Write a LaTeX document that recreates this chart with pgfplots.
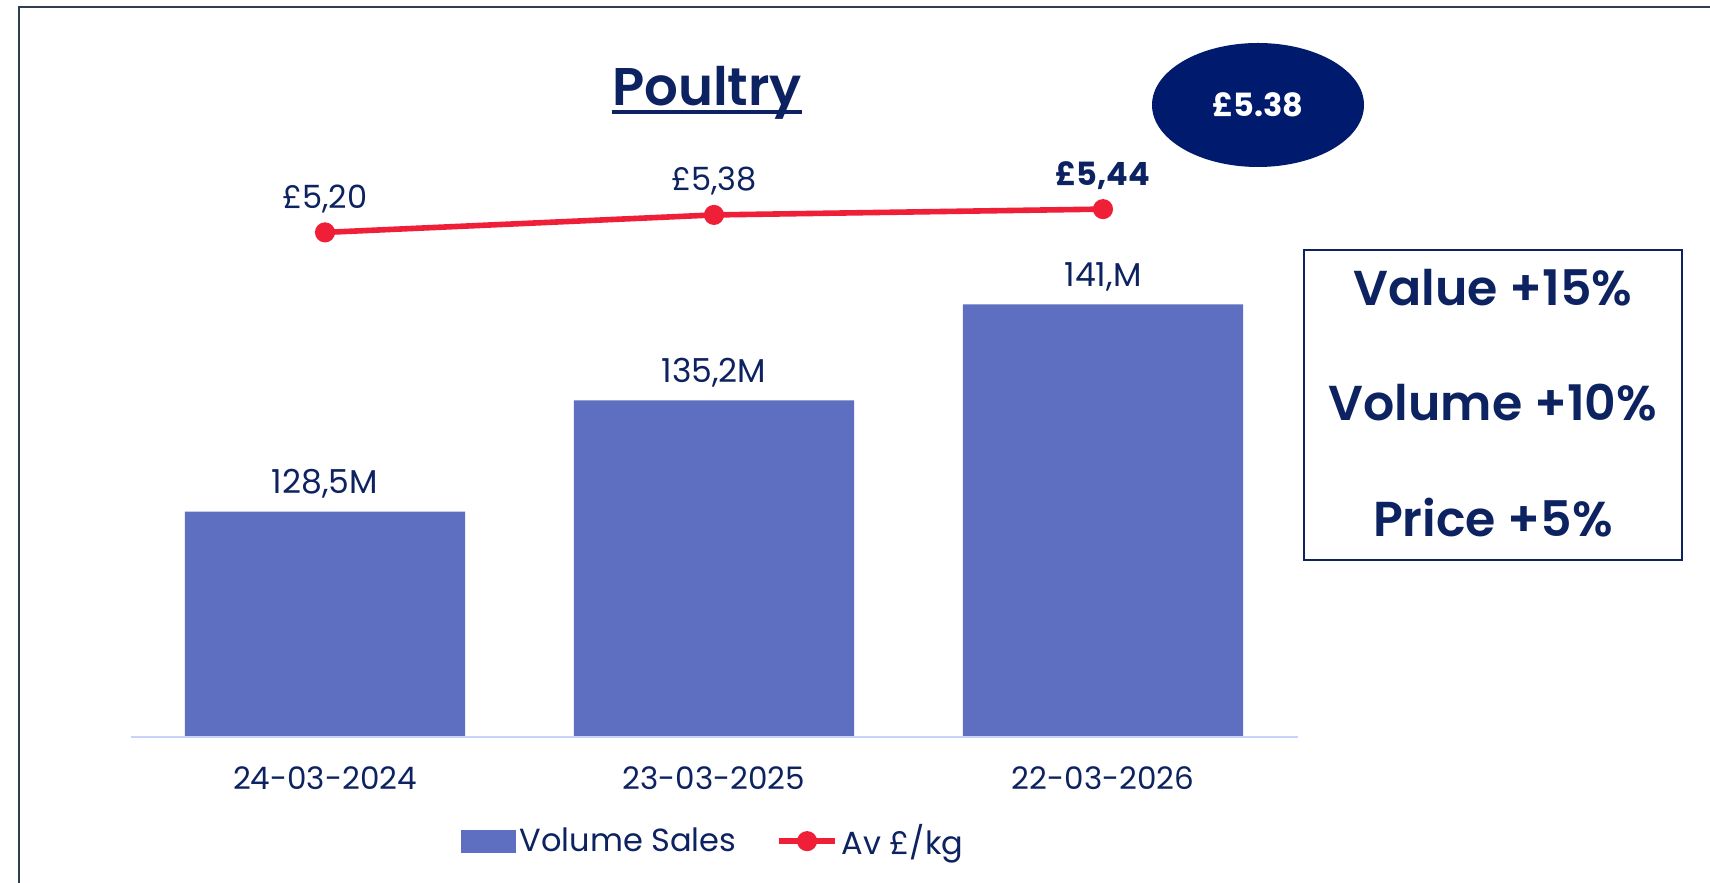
\documentclass[border=0pt]{standalone}
\usepackage{fontspec}
\setmainfont{Poppins}
\newfontfamily\semib{Poppins SemiBold}
\usepackage{pgfplots}
\pgfplotsset{compat=1.18}

\definecolor{navy}{RGB}{13,34,96}
\definecolor{ellfill}{RGB}{0,26,110}
\definecolor{barblue}{RGB}{94,110,192}
\definecolor{linered}{RGB}{239,31,56}
\definecolor{axisline}{RGB}{200,210,250}
\definecolor{framecol}{RGB}{45,62,85}

\newcommand{\fs}[1]{\fontsize{#1}{1.2\dimexpr#1pt\relax}\selectfont}

\begin{document}
\begin{tikzpicture}
\useasboundingbox (0,0) rectangle (855pt,441.5pt);
\fill[white] (0,0) rectangle (855pt,441.5pt);
\draw[framecol, line width=1.2pt] (9.5pt,0) -- (9.5pt,438pt) -- (855pt,438pt);

% bars: volume sales
\begin{axis}[
    at={(65.25pt,73pt)}, anchor=south west,
    scale only axis, width=583.5pt, height=278.5pt,
    xmin=-0.5, xmax=2.5, ymin=114.9, ymax=148.5,
    ybar, bar width=0.72,
    axis y line=none, axis x line*=bottom,
    axis line style={draw=axisline, line width=1pt},
    xtick={0,1,2},
    xticklabels={24-03-2024,23-03-2025,22-03-2026},
    major tick length=0pt,
    x tick label style={anchor=base, yshift=-26.5pt, font=\fs{15.5}, text=navy},
    axis on top, clip=false
]
\addplot[
    fill=barblue, draw=none,
    nodes near coords, point meta=explicit symbolic,
    every node near coord/.append style={anchor=base, yshift=9pt, font=\fs{16.5}, text=navy}
] coordinates {
    (0,128.5) [128,5M]
    (1,135.2) [135,2M]
    (2,141.0) [141,M]
};
\end{axis}

% line: average price per kg
\begin{axis}[
    at={(65.25pt,73pt)}, anchor=south west,
    scale only axis, width=583.5pt, height=278.5pt,
    xmin=-0.5, xmax=2.5, ymin=0, ymax=5.74,
    hide axis, clip=false,
    legend columns=2,
    legend style={at={(0.5,-0.187)}, anchor=center, draw=none, fill=none,
        font=\fs{16}, text=navy,
        /tikz/every even column/.append style={column sep=18pt}},
    legend cell align=left
]
\addlegendimage{legend image code/.code={\fill[barblue] (0pt,-5.5pt) rectangle (27pt,5.5pt);}}
\addlegendentry{Volume Sales}
\addplot[
    linered, line width=2.8pt, mark=*, mark size=3.6pt,
    mark options={solid, fill=linered, draw=linered},
    legend image code/.code={
        \draw[linered, line width=2.8pt] (0pt,0pt) -- (28pt,0pt);
        \fill[linered] (14pt,0pt) circle (3.6pt);},
    nodes near coords, point meta=explicit symbolic,
    every node near coord/.append style={anchor=base, yshift=12pt, font=\fs{16}, text=navy}
] coordinates {
    (0,5.20) [£5,20]
    (1,5.38) [£5,38]
    (2,5.44) [\textbf{£5,44}]
};
\addlegendentry{Av £/kg}
\end{axis}

% title
\node[anchor=base, inner sep=0pt, font=\semib\fs{26.5}, text=navy] (t) at (353.5pt,388.5pt) {Poultry};
\draw[navy, line width=1.6pt] ([yshift=-3pt]t.base west) -- ([yshift=-3pt]t.base east);

% price bubble
\fill[ellfill] (629pt,389pt) ellipse [x radius=53pt, y radius=31pt];
\node[text=white, font=\bfseries\fs{16}] at (629pt,389pt) {£5.38};

% summary box
\draw[navy, line width=1.1pt] (652pt,161.5pt) rectangle (841pt,316.5pt);
\node[anchor=base, font=\semib\fs{24.5}, text=navy] at (746.5pt,288.5pt) {Value +15\%};
\node[anchor=base, font=\semib\fs{24.5}, text=navy] at (746.5pt,231pt) {Volume +10\%};
\node[anchor=base, font=\semib\fs{24.5}, text=navy] at (746.5pt,173pt) {Price +5\%};
\end{tikzpicture}
\end{document}
